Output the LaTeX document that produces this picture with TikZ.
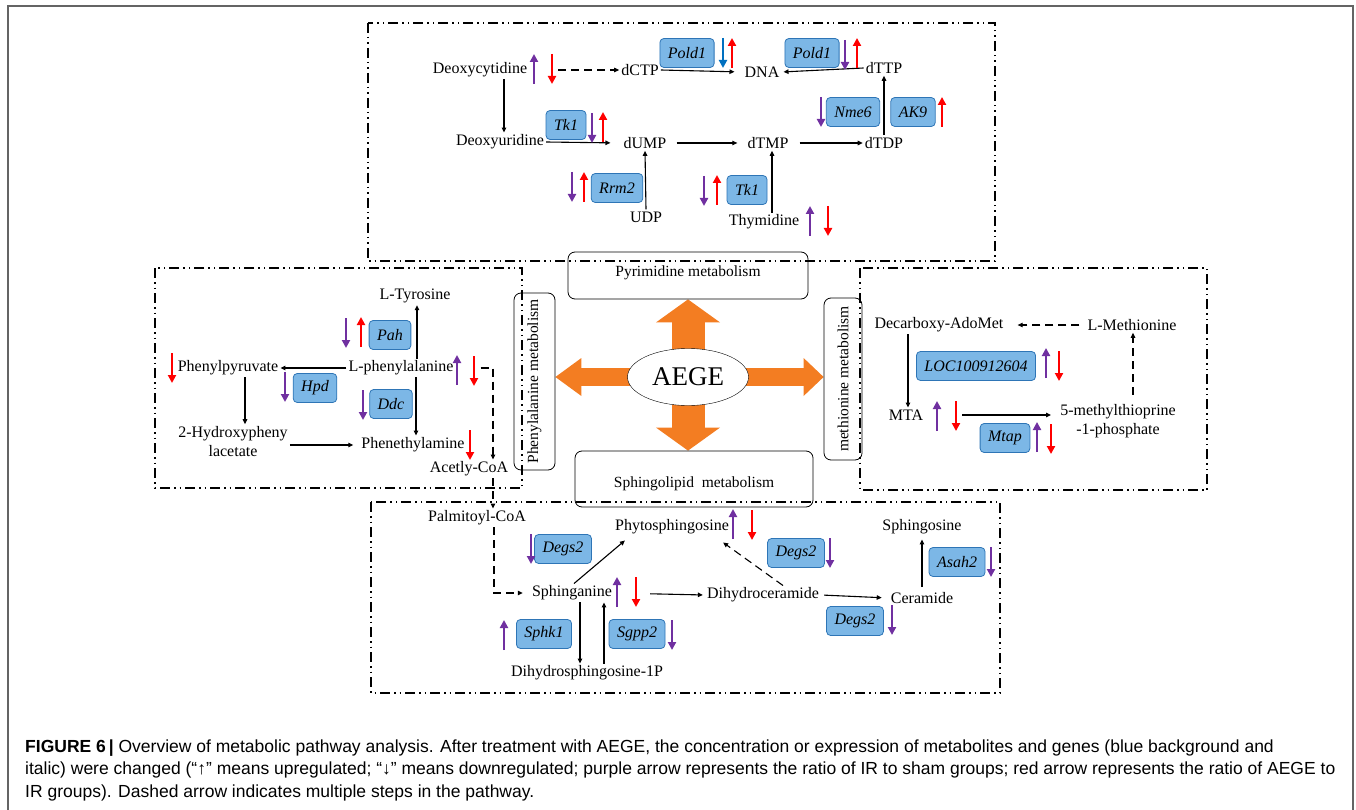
\documentclass[tikz,border=0pt]{standalone}
\usepackage{fontspec}
\setmainfont{Liberation Serif}
\newfontfamily\capfont{Liberation Sans}
\usepackage{tikz}
\usetikzlibrary{arrows.meta,positioning,shapes.geometric,backgrounds}
\definecolor{regpurple}{RGB}{112,48,160}
\definecolor{regred}{RGB}{255,0,0}
\definecolor{regblue}{RGB}{0,112,192}
\definecolor{genefill}{RGB}{124,183,230}
\definecolor{genedraw}{RGB}{46,117,182}
\definecolor{aegeorange}{RGB}{243,125,34}
\definecolor{framegray}{RGB}{100,100,100}
\newcommand{\RegUp}[3]{\draw[reg, #1] (#2,#3) ++(0,15) -- ++(0,-30);}
\newcommand{\RegDown}[3]{\draw[reg, #1] (#2,#3) ++(0,-15) -- ++(0,30);}

\begin{document}
\begin{tikzpicture}[
    x=1pt, y=-1pt,
    met/.style={font=\fontsize{16}{19}\selectfont, inner sep=2pt, align=center},
    gene/.style={draw=genedraw, fill=genefill, rounded corners=4pt, line width=0.8pt, font=\fontsize{16}{18}\selectfont\itshape, minimum height=29pt, inner xsep=8pt},
    pathway/.style={draw, rounded corners=7pt, line width=0.8pt, font=\fontsize{15.5}{18}\selectfont},
    region/.style={draw, line width=1.2pt, dash pattern=on 10pt off 4pt on 1.5pt off 4pt on 1.5pt off 4pt},
    conn/.style={-{Triangle[length=5pt,width=4.5pt]}, line width=1.1pt},
    multi/.style={conn, dash pattern=on 8pt off 5pt},
    reg/.style={-{Triangle[length=8pt,width=8pt]}, line width=2.8pt},
    bigarrow/.style={aegeorange, line width=#1}
]
\useasboundingbox (0,0) rectangle (1356,810);

% Frame
\draw[framegray, line width=1.5pt] (8,810) -- (8,6) -- (1353,6) -- (1353,810);

% Regions
\draw[region] (368,23) rectangle (995,261);
\draw[region] (155,268) rectangle (522,488);
\draw[region] (860,268) rectangle (1207,490);
\draw[region] (371,502) rectangle (1000,693);

% AEGE and pathways
\node[draw, ellipse, fill=white, minimum width=121pt, minimum height=57pt, inner sep=0pt, font=\fontsize{27}{30}\selectfont] (aege) at (688,377) {AEGE};
\node[pathway, minimum width=240pt, minimum height=47pt, text depth=9pt] (pyr) at (688,275.5) {Pyrimidine metabolism};
\node[pathway, rotate=90, minimum width=177pt, minimum height=41pt] (phe) at (534.5,381.5) {Phenylalanine metabolism};
\node[pathway, rotate=90, minimum width=162pt, minimum height=38pt] (metb) at (843,379) {methionine metabolism};
\node[pathway, minimum width=238pt, minimum height=56pt, text height=20pt] (sph) at (694,479) {Sphingolipid\ \ metabolism};

\begin{scope}[on background layer]
\draw[bigarrow=33pt, -{Triangle[width=64pt,length=23pt,line width=0pt]}] (aege.center) -- (pyr.south);
\draw[bigarrow=33pt, -{Triangle[width=64pt,length=23pt,line width=0pt]}] (aege.center) -- (aege.center |- sph.north);
\draw[bigarrow=18pt, -{Triangle[width=38pt,length=26pt,line width=0pt]}] (aege.center) -- (aege.center -| phe.south);
\draw[bigarrow=18pt, -{Triangle[width=38pt,length=20pt,line width=0pt]}] (aege.center) -- (aege.center -| metb.north);
\end{scope}

% Pyrimidine metabolism
\node[met] (dcyt) at (480,70) {Deoxycytidine};
\node[met] (dctp) at (640,70) {dCTP};
\node[met] (dna) at (762,72) {DNA};
\node[met] (dttp) at (884,68) {dTTP};
\node[met] (dtdp) at (884,143) {dTDP};
\node[met] (dtmp) at (768,143) {dTMP};
\node[met] (dump) at (645,143) {dUMP};
\node[met] (durd) at (500,142) {Deoxyuridine};
\node[met] (udp) at (646,217) {UDP};
\node[met] (thy) at (764,222) {Thymidine};

\node[gene] (pold1a) at (687,53) {Pold1};
\node[gene] (pold1b) at (812,53) {Pold1};
\node[gene] (nme6) at (853,112) {Nme6};
\node[gene] (ak9) at (913,112) {AK9};
\node[gene] (tk1a) at (566,125) {Tk1};
\node[gene] (rrm2) at (617,188) {Rrm2};
\node[gene] (tk1b) at (747,190) {Tk1};

\draw[multi] ([xshift=29pt]dcyt.east) -- (dctp.west);
\draw[conn, shorten >=8pt] (dctp.east) -- (dna.west);
\draw[conn, shorten >=2pt] (dttp.west) -- (dna.east);
\draw[conn] (dtdp.north) -- (dttp.south);
\draw[conn, shorten <=9pt] (dtmp.east) -- (dtdp.west);
\draw[conn, shorten <=8pt, shorten >=8pt] (dump.east) -- (dtmp.west);
\draw[conn, shorten >=11pt] (durd.east) -- (dump.west);
\draw[conn] ([xshift=24pt]dcyt.south) -- ([xshift=24pt]dcyt.south |- durd.north);
\draw[conn] (udp.north) -- (dump.south);
\draw[conn] ([xshift=8pt]thy.north) -- ([xshift=8pt]thy.north |- dtmp.south);

\RegUp{regpurple}{534}{69} \RegDown{regred}{552}{69}
\RegDown{regblue}{723}{53} \RegUp{regred}{732}{53}
\RegDown{regpurple}{845}{55} \RegUp{regred}{857}{53}
\RegDown{regpurple}{821}{112} \RegUp{regred}{942}{112}
\RegDown{regpurple}{592}{128} \RegUp{regred}{603}{127}
\RegDown{regpurple}{572}{187} \RegUp{regred}{584}{187}
\RegDown{regpurple}{704}{191} \RegUp{regred}{717}{190}
\RegUp{regpurple}{810}{221} \RegDown{regred}{828}{221}

% Phenylalanine metabolism
\node[met] (ltyr) at (415,296) {L-Tyrosine};
\node[met] (lphe) at (401,368) {L-phenylalanine};
\node[met] (ppyr) at (228,368) {Phenylpyruvate};
\node[met] (hpac) at (233,441.5) {2-Hydroxypheny\\lacetate};
\node[met] (peth) at (413,445) {Phenethylamine};
\node[met] (acoa) at (469,469) {Acetly-CoA};

\node[gene] (pah) at (390,335) {Pah};
\node[gene] (hpd) at (315,388) {Hpd};
\node[gene] (ddc) at (391,404) {Ddc};

\draw[conn] ([xshift=16pt]lphe.north) -- ([xshift=16pt]lphe.north |- ltyr.south);
\draw[conn] (lphe.west) -- (ppyr.east);
\draw[conn] ([xshift=15pt]lphe.south) -- ([xshift=15pt]lphe.south |- peth.north);
\draw[conn] ([xshift=17pt]ppyr.south) -- ([xshift=17pt]ppyr.south |- hpac.north);
\draw[conn, shorten >=6pt] (hpac.east |- peth.west) -- (peth.west);
\draw[multi] ([xshift=25pt]lphe.east) -| ([xshift=24pt]acoa.north);

\RegDown{regpurple}{346}{333} \RegUp{regred}{361}{332}
\RegUp{regpurple}{457}{370} \RegDown{regred}{474}{371}
\RegDown{regred}{172}{368}
\RegDown{regpurple}{285}{387}
\RegDown{regpurple}{363}{405}
\RegDown{regred}{470}{445}

% Methionine metabolism
\node[met] (dam) at (939,325) {Decarboxy-AdoMet};
\node[met] (lmet) at (1132,325) {L-Methionine};
\node[met] (mta) at (906,415) {MTA};
\node[met] (mtp) at (1118,421.5) {5-methylthioprine\\-1-phosphate};

\node[gene] (loc) at (976,366) {LOC100912604};
\node[gene] (mtap) at (1005,438) {Mtap};

\draw[multi, shorten <=6pt, shorten >=12pt] (lmet.west) -- (dam.east);
\draw[conn] ([xshift=-31pt]dam.south) -- ([xshift=-31pt]dam.south |- mta.north);
\draw[conn, shorten <=37pt, shorten >=7pt] (mta.east) -- (mta.east -| mtp.west);
\draw[multi, shorten <=8pt] ([xshift=15pt]mtp.north) -- ([xshift=15pt]mtp.north |- lmet.south);

\RegUp{regpurple}{1046}{363} \RegDown{regred}{1059}{366}
\RegUp{regpurple}{937}{416} \RegDown{regred}{956}{416}
\RegUp{regpurple}{1037}{437} \RegDown{regred}{1051}{439}

% Sphingolipid metabolism
\node[met] (pcoa) at (477,518) {Palmitoyl-CoA};
\node[met] (sphn) at (572,593) {Sphinganine};
\node[met] (phyt) at (672,527) {Phytosphingosine};
\node[met] (dhc) at (763,595) {Dihydroceramide};
\node[met] (cer) at (922,598) {Ceramide};
\node[met] (sphg) at (922,527) {Sphingosine};
\node[met] (dhsp) at (587,673) {Dihydrosphingosine-1P};

\node[gene] (degsa) at (563,549) {Degs2};
\node[gene] (degsb) at (796,553) {Degs2};
\node[gene] (degsc) at (855,621) {Degs2};
\node[gene] (asah2) at (957,562) {Asah2};
\node[gene] (sphk1) at (544,634) {Sphk1};
\node[gene] (sgpp2) at (637,634) {Sgpp2};

\draw[multi] ([xshift=24pt]acoa.south) -- ([xshift=24pt]acoa.south |- pcoa.north);
\draw[multi, shorten >=7pt] ([xshift=17pt]pcoa.south) |- (sphn.west);
\draw[conn] ([xshift=2pt]sphn.north) -- ([xshift=12pt,yshift=-4pt]phyt.south west);
\draw[multi] ([xshift=20pt]dhc.north) -- ([xshift=-8pt,yshift=-6pt]phyt.south east);
\draw[conn, shorten <=36pt, shorten >=2pt] (sphn.east) -- (dhc.west);
\draw[conn, shorten <=3pt, shorten >=7pt] (dhc.east) -- (cer.west);
\draw[conn, shorten <=3pt, shorten >=3pt] (cer.north) -- (sphg.south);
\draw[conn] ([xshift=8pt]sphn.south) -- ([xshift=8pt]sphn.south |- dhsp.north);
\draw[conn] ([xshift=17pt]dhsp.north) -- ([xshift=17pt]dhsp.north |- sphn.south);

\RegDown{regpurple}{531}{549}
\RegUp{regpurple}{733}{524} \RegDown{regred}{752}{525}
\RegDown{regpurple}{830}{553}
\RegUp{regpurple}{617}{592} \RegDown{regred}{636}{592}
\RegDown{regpurple}{892}{620}
\RegDown{regpurple}{991}{562}
\RegUp{regpurple}{504}{635}
\RegDown{regpurple}{672}{635}

% Caption
\node[anchor=base west, align=left, inner sep=0pt, font=\capfont\fontsize{17.5}{22.5}\selectfont] (cap) at (25,797)
{\textbf{FIGURE 6\,|} Overview of metabolic pathway analysis. After treatment with AEGE, the concentration or expression of metabolites and genes (blue background and\\
italic) were changed (“↑” means upregulated; “↓” means downregulated; purple arrow represents the ratio of IR to sham groups; red arrow represents the ratio of AEGE to\\
IR groups). Dashed arrow indicates multiple steps in the pathway.};

\end{tikzpicture}
\end{document}
